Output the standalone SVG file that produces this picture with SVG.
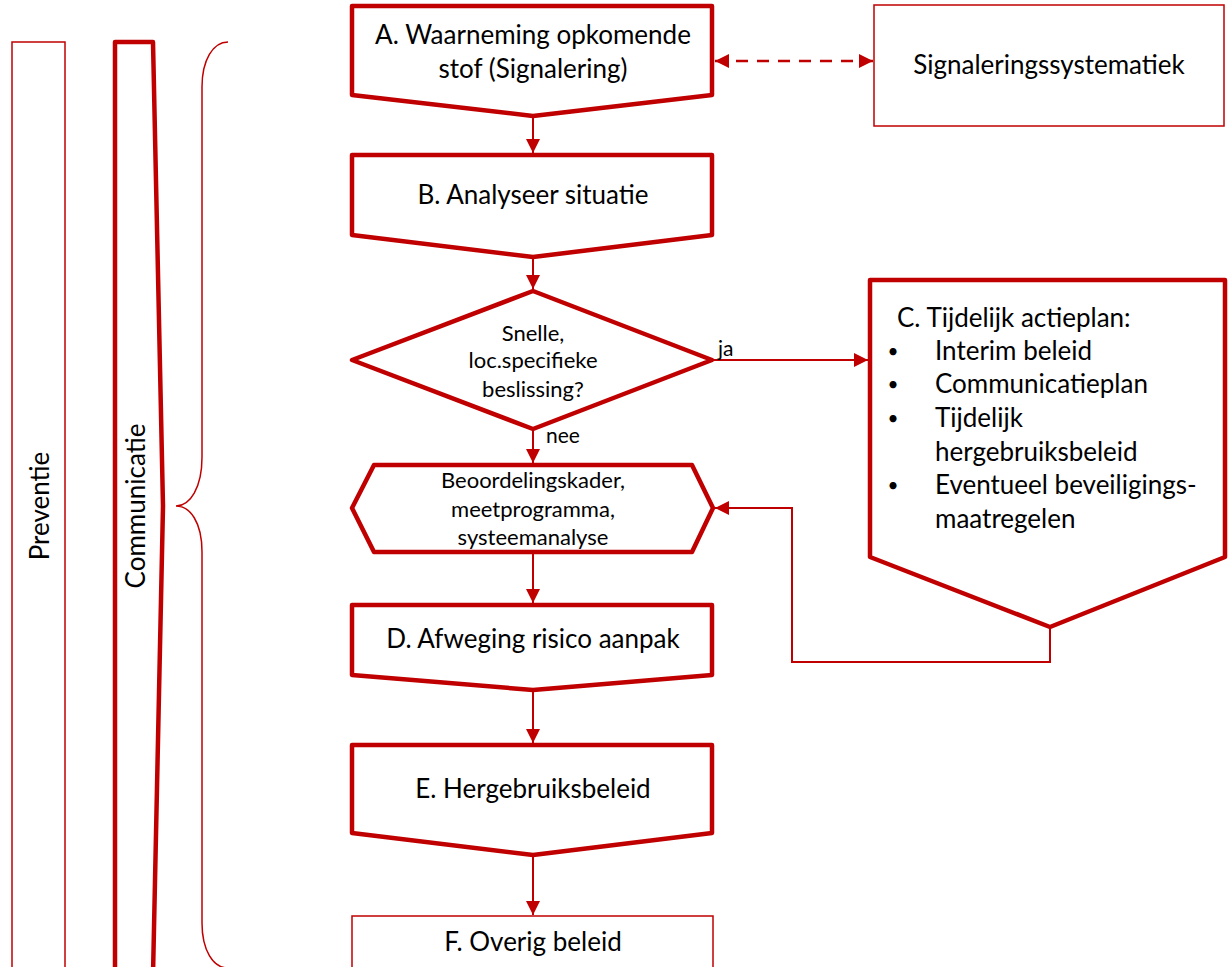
<svg xmlns="http://www.w3.org/2000/svg" width="1229" height="967" viewBox="0 0 1229 967">
<defs>
<style>
.thick{fill:#fff;stroke:#C00000;stroke-width:4.5;stroke-linejoin:round}
.thin{fill:#fff;stroke:#C00000;stroke-width:1.5}
.brace{fill:none;stroke:#C00000;stroke-width:1.5}
.conn{fill:none;stroke:#C00000;stroke-width:2}
.dash{stroke-width:2.5;stroke-dasharray:12,9}
text{font-family:Lato,"Liberation Sans",sans-serif;fill:#000}
.lbl{font-size:26px;text-anchor:middle}
.sm{font-size:22px;text-anchor:middle}
.tag{font-size:21px}
.lst{font-size:26px}
.bul{font-size:19px;text-anchor:middle}
</style>
<marker id="ah" markerUnits="userSpaceOnUse" markerWidth="14" markerHeight="14" refX="14" refY="7" orient="auto-start-reverse" viewBox="0 0 14 14">
<path d="M0,0 L14,7 L0,14 Z" fill="#C00000"/>
</marker>
</defs>

<g id="preventie">
<rect class="thin" x="12" y="42" width="53" height="940"/>
<text class="lbl" transform="translate(49,506) rotate(-90)">Preventie</text>
</g>

<g id="communicatie">
<path class="thick" d="M115,42 L153,42 L163,506 L153,975 L115,975 Z"/>
<text class="lbl" transform="translate(145,506) rotate(-90)">Communicatie</text>
</g>

<g id="brace">
<path class="brace" d="M228,42 C213,42 202,60 202,87 L202,457 C202,488 190,506 176,506 C190,506 202,522 202,552 L202,923 C202,950 213,968 228,968"/>
</g>

<g id="nodeA">
<polygon class="thick" points="352,6 712,6 712,95 533,116 352,95"/>
<text class="lbl" x="533" y="44">A. Waarneming opkomende</text>
<text class="lbl" x="533" y="78">stof (Signalering)</text>
</g>

<g id="signalering">
<rect class="thin" x="874" y="5" width="350" height="121"/>
<text class="lbl" x="1049" y="74">Signaleringssystematiek</text>
</g>

<g id="nodeB">
<polygon class="thick" points="352,155 712,155 712,235 533,257 352,235"/>
<text class="lbl" x="533" y="204">B. Analyseer situatie</text>
</g>

<g id="decision">
<polygon class="thick" points="352,360 533,291 712,360 533,429"/>
<text class="sm" x="533" y="341">Snelle,</text>
<text class="sm" x="533" y="368">loc.specifieke</text>
<text class="sm" x="533" y="397">beslissing?</text>
</g>

<g id="kader">
<polygon class="thick" points="374,465 692,465 713,508 692,552 374,552 352,508"/>
<text class="sm" x="533" y="488">Beoordelingskader,</text>
<text class="sm" x="533" y="517">meetprogramma,</text>
<text class="sm" x="533" y="545">systeemanalyse</text>
</g>

<g id="nodeC">
<polygon class="thick" points="870,280 1225,280 1225,557 1050,627 870,557"/>
<text class="lst" x="897" y="327">C. Tijdelijk actieplan:</text>
<text class="bul" x="893" y="358">•</text>
<text class="lst" x="935" y="360">Interim beleid</text>
<text class="bul" x="893" y="391">•</text>
<text class="lst" x="935" y="393">Communicatieplan</text>
<text class="bul" x="893" y="425">•</text>
<text class="lst" x="935" y="427">Tijdelijk</text>
<text class="lst" x="935" y="461">hergebruiksbeleid</text>
<text class="bul" x="893" y="492">•</text>
<text class="lst" x="935" y="494">Eventueel beveiligings-</text>
<text class="lst" x="935" y="528">maatregelen</text>
</g>

<g id="nodeD">
<polygon class="thick" points="352,605 712,605 712,675 533,690 352,675"/>
<text class="lbl" x="533" y="648">D. Afweging risico aanpak</text>
</g>

<g id="nodeE">
<polygon class="thick" points="352,745 712,745 712,833 533,855 352,833"/>
<text class="lbl" x="533" y="798">E. Hergebruiksbeleid</text>
</g>

<g id="nodeF">
<rect class="thin" x="352" y="916" width="361" height="70"/>
<text class="lbl" x="533" y="951">F. Overig beleid</text>
</g>

<g id="connectors">
<path class="conn" d="M533,117 V153" marker-end="url(#ah)"/>
<path class="conn" d="M533,258 V289" marker-end="url(#ah)"/>
<path class="conn" d="M533,430 V463" marker-end="url(#ah)"/>
<path class="conn" d="M533,553 V603" marker-end="url(#ah)"/>
<path class="conn" d="M533,691 V743" marker-end="url(#ah)"/>
<path class="conn" d="M533,856 V915" marker-end="url(#ah)"/>
<path class="conn" d="M714,360 H868" marker-end="url(#ah)"/>
<path class="conn" d="M1050,628 V662 H792 V508 H715" marker-end="url(#ah)"/>
<path class="conn dash" d="M715,61 H873" marker-start="url(#ah)" marker-end="url(#ah)"/>
<text class="tag" x="718" y="356">ja</text>
<text class="tag" x="546" y="443">nee</text>
</g>
</svg>
